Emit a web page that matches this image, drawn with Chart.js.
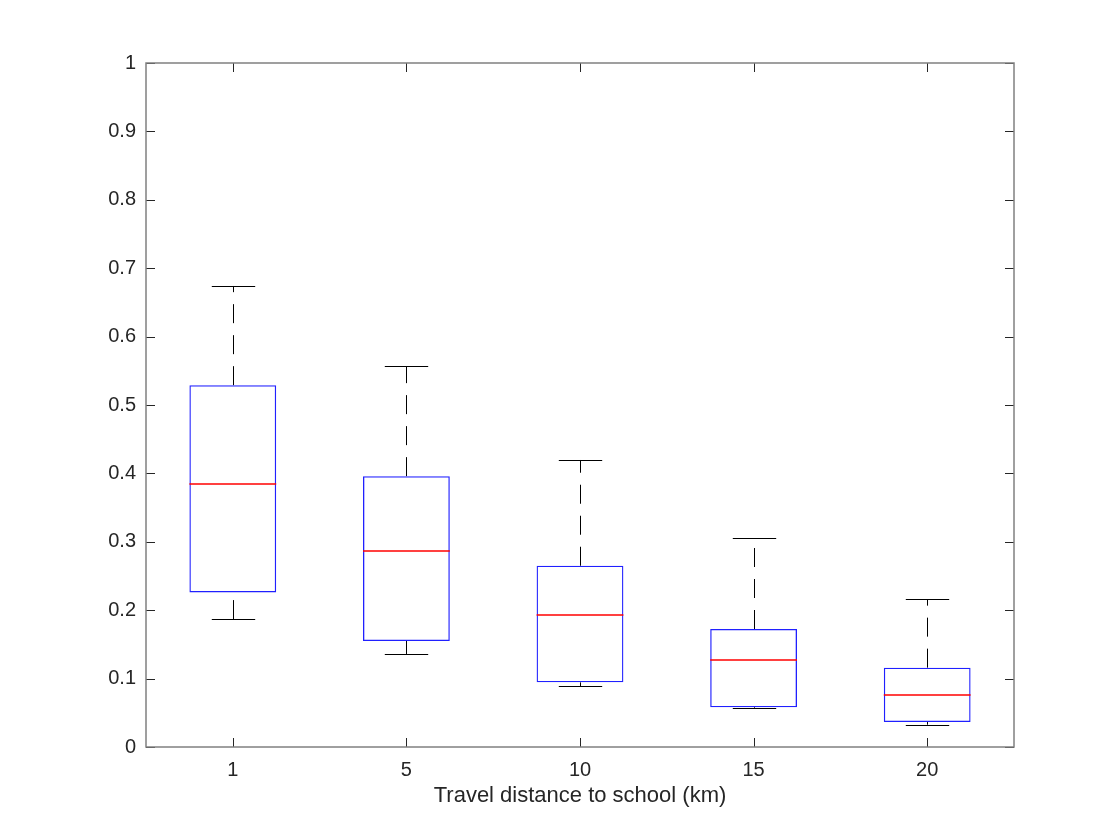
<!DOCTYPE html>
<html>
<head>
<meta charset="utf-8">
<script src="https://cdn.jsdelivr.net/npm/chart.js@4"></script>
<style>
  html, body { margin: 0; padding: 0; background: #ffffff; }
  #wrap { width: 1120px; height: 840px; }
</style>
</head>
<body>
<div id="wrap"><canvas id="c" width="1120" height="840"></canvas></div>
<script>
// ---- data ----
const categories = ['1', '5', '10', '15', '20'];
const whiskerLow  = [0.187, 0.136, 0.089, 0.057, 0.0326];
const q1          = [0.226, 0.155, 0.0945, 0.058, 0.0365];
const median      = [0.385, 0.2865, 0.193, 0.127, 0.076];
const q3          = [0.529, 0.396, 0.265, 0.1725, 0.116];
const whiskerHigh = [0.674, 0.5565, 0.4196, 0.305, 0.216];
const yTickLabels = ['0', '0.1', '0.2', '0.3', '0.4', '0.5', '0.6', '0.7', '0.8', '0.9', '1'];
const xTitle = 'Travel distance to school (km)';

const FONT = "'Liberation Sans', Arial, Helvetica, sans-serif";
const TXT = '#262626';

const snap = v => Math.round(v) + 0.5;

const boxPlugin = {
  id: 'boxParts',
  afterDatasetsDraw(chart) {
    const { ctx, scales: { x, y } } = chart;
    const bars = chart.getDatasetMeta(0).data;
    ctx.save();
    ctx.lineWidth = 1;
    categories.forEach((c, i) => {
      const cx = snap(x.getPixelForValue(i));
      const hw = bars[i].width / 2;
      const capHw = hw / 2;
      // dashed whiskers (drawn from lower value to higher value)
      ctx.strokeStyle = '#000000';
      ctx.lineWidth = 1;
      ctx.setLineDash([19, 12]);
      ctx.beginPath();
      ctx.moveTo(cx, y.getPixelForValue(whiskerLow[i]));
      ctx.lineTo(cx, y.getPixelForValue(q1[i]));
      ctx.stroke();
      ctx.beginPath();
      ctx.moveTo(cx, y.getPixelForValue(q3[i]));
      ctx.lineTo(cx, y.getPixelForValue(whiskerHigh[i]));
      ctx.stroke();
      ctx.setLineDash([]);
      // caps
      [whiskerLow[i], whiskerHigh[i]].forEach(v => {
        const py = snap(y.getPixelForValue(v));
        ctx.beginPath();
        ctx.moveTo(cx - capHw, py);
        ctx.lineTo(cx + capHw, py);
        ctx.stroke();
      });
      // median
      ctx.strokeStyle = '#ff0000';
      ctx.lineWidth = 1.3;
      const my = Math.round(y.getPixelForValue(median[i]));
      ctx.beginPath();
      ctx.moveTo(bars[i].x - hw, my);
      ctx.lineTo(bars[i].x + hw, my);
      ctx.stroke();
    });
    ctx.restore();
  },
  afterDraw(chart) {
    const { ctx, chartArea: a, scales: { x, y } } = chart;
    ctx.save();
    // inward tick marks on all sides
    ctx.strokeStyle = TXT;
    ctx.lineWidth = 1;
    const tl = 9;
    y.ticks.forEach((t, i) => {
      const py = snap(y.getPixelForTick(i));
      ctx.beginPath();
      ctx.moveTo(a.left, py); ctx.lineTo(a.left + tl, py);
      ctx.moveTo(a.right, py); ctx.lineTo(a.right - tl, py);
      ctx.stroke();
    });
    x.ticks.forEach((t, i) => {
      const px = snap(x.getPixelForTick(i));
      ctx.beginPath();
      ctx.moveTo(px, a.bottom); ctx.lineTo(px, a.bottom - tl);
      ctx.moveTo(px, a.top); ctx.lineTo(px, a.top + tl);
      ctx.stroke();
    });
    // axes box
    ctx.strokeStyle = '#808080';
    ctx.lineWidth = 1.5;
    ctx.strokeRect(Math.round(a.left), Math.round(a.top),
                   Math.round(a.right) - Math.round(a.left),
                   Math.round(a.bottom) - Math.round(a.top));
    ctx.restore();
  }
};

new Chart(document.getElementById('c'), {
  type: 'bar',
  data: {
    labels: categories,
    datasets: [{
      data: categories.map((c, i) => [q1[i], q3[i]]),
      backgroundColor: 'rgba(0,0,0,0)',
      borderColor: '#2020ff',
      borderWidth: 1.3,
      borderSkipped: false,
      barPercentage: 0.5,
      categoryPercentage: 1.0
    }]
  },
  options: {
    responsive: false,
    devicePixelRatio: 1,
    animation: false,
    layout: { padding: { left: 0, right: 106, top: 63, bottom: 0 } },
    plugins: { legend: { display: false }, tooltip: { enabled: false } },
    scales: {
      x: {
        type: 'category',
        offset: true,
        grid: { display: false, drawTicks: false },
        border: { display: false },
        ticks: { color: TXT, font: { family: FONT, size: 20 }, padding: 11, maxRotation: 0 },
        title: {
          display: true, text: xTitle, color: TXT,
          font: { family: FONT, size: 22 },
          padding: { top: 0, bottom: 31 }
        },
        afterFit(s) { s.height = 93; }
      },
      y: {
        min: 0, max: 1,
        grid: { display: false, drawTicks: false },
        border: { display: false },
        ticks: {
          stepSize: 0.1, color: TXT, padding: 10,
          font: { family: FONT, size: 20 },
          callback: (v, i) => yTickLabels[i]
        },
        afterFit(s) { s.width = 146; }
      }
    }
  },
  plugins: [boxPlugin]
});
</script>
</body>
</html>
